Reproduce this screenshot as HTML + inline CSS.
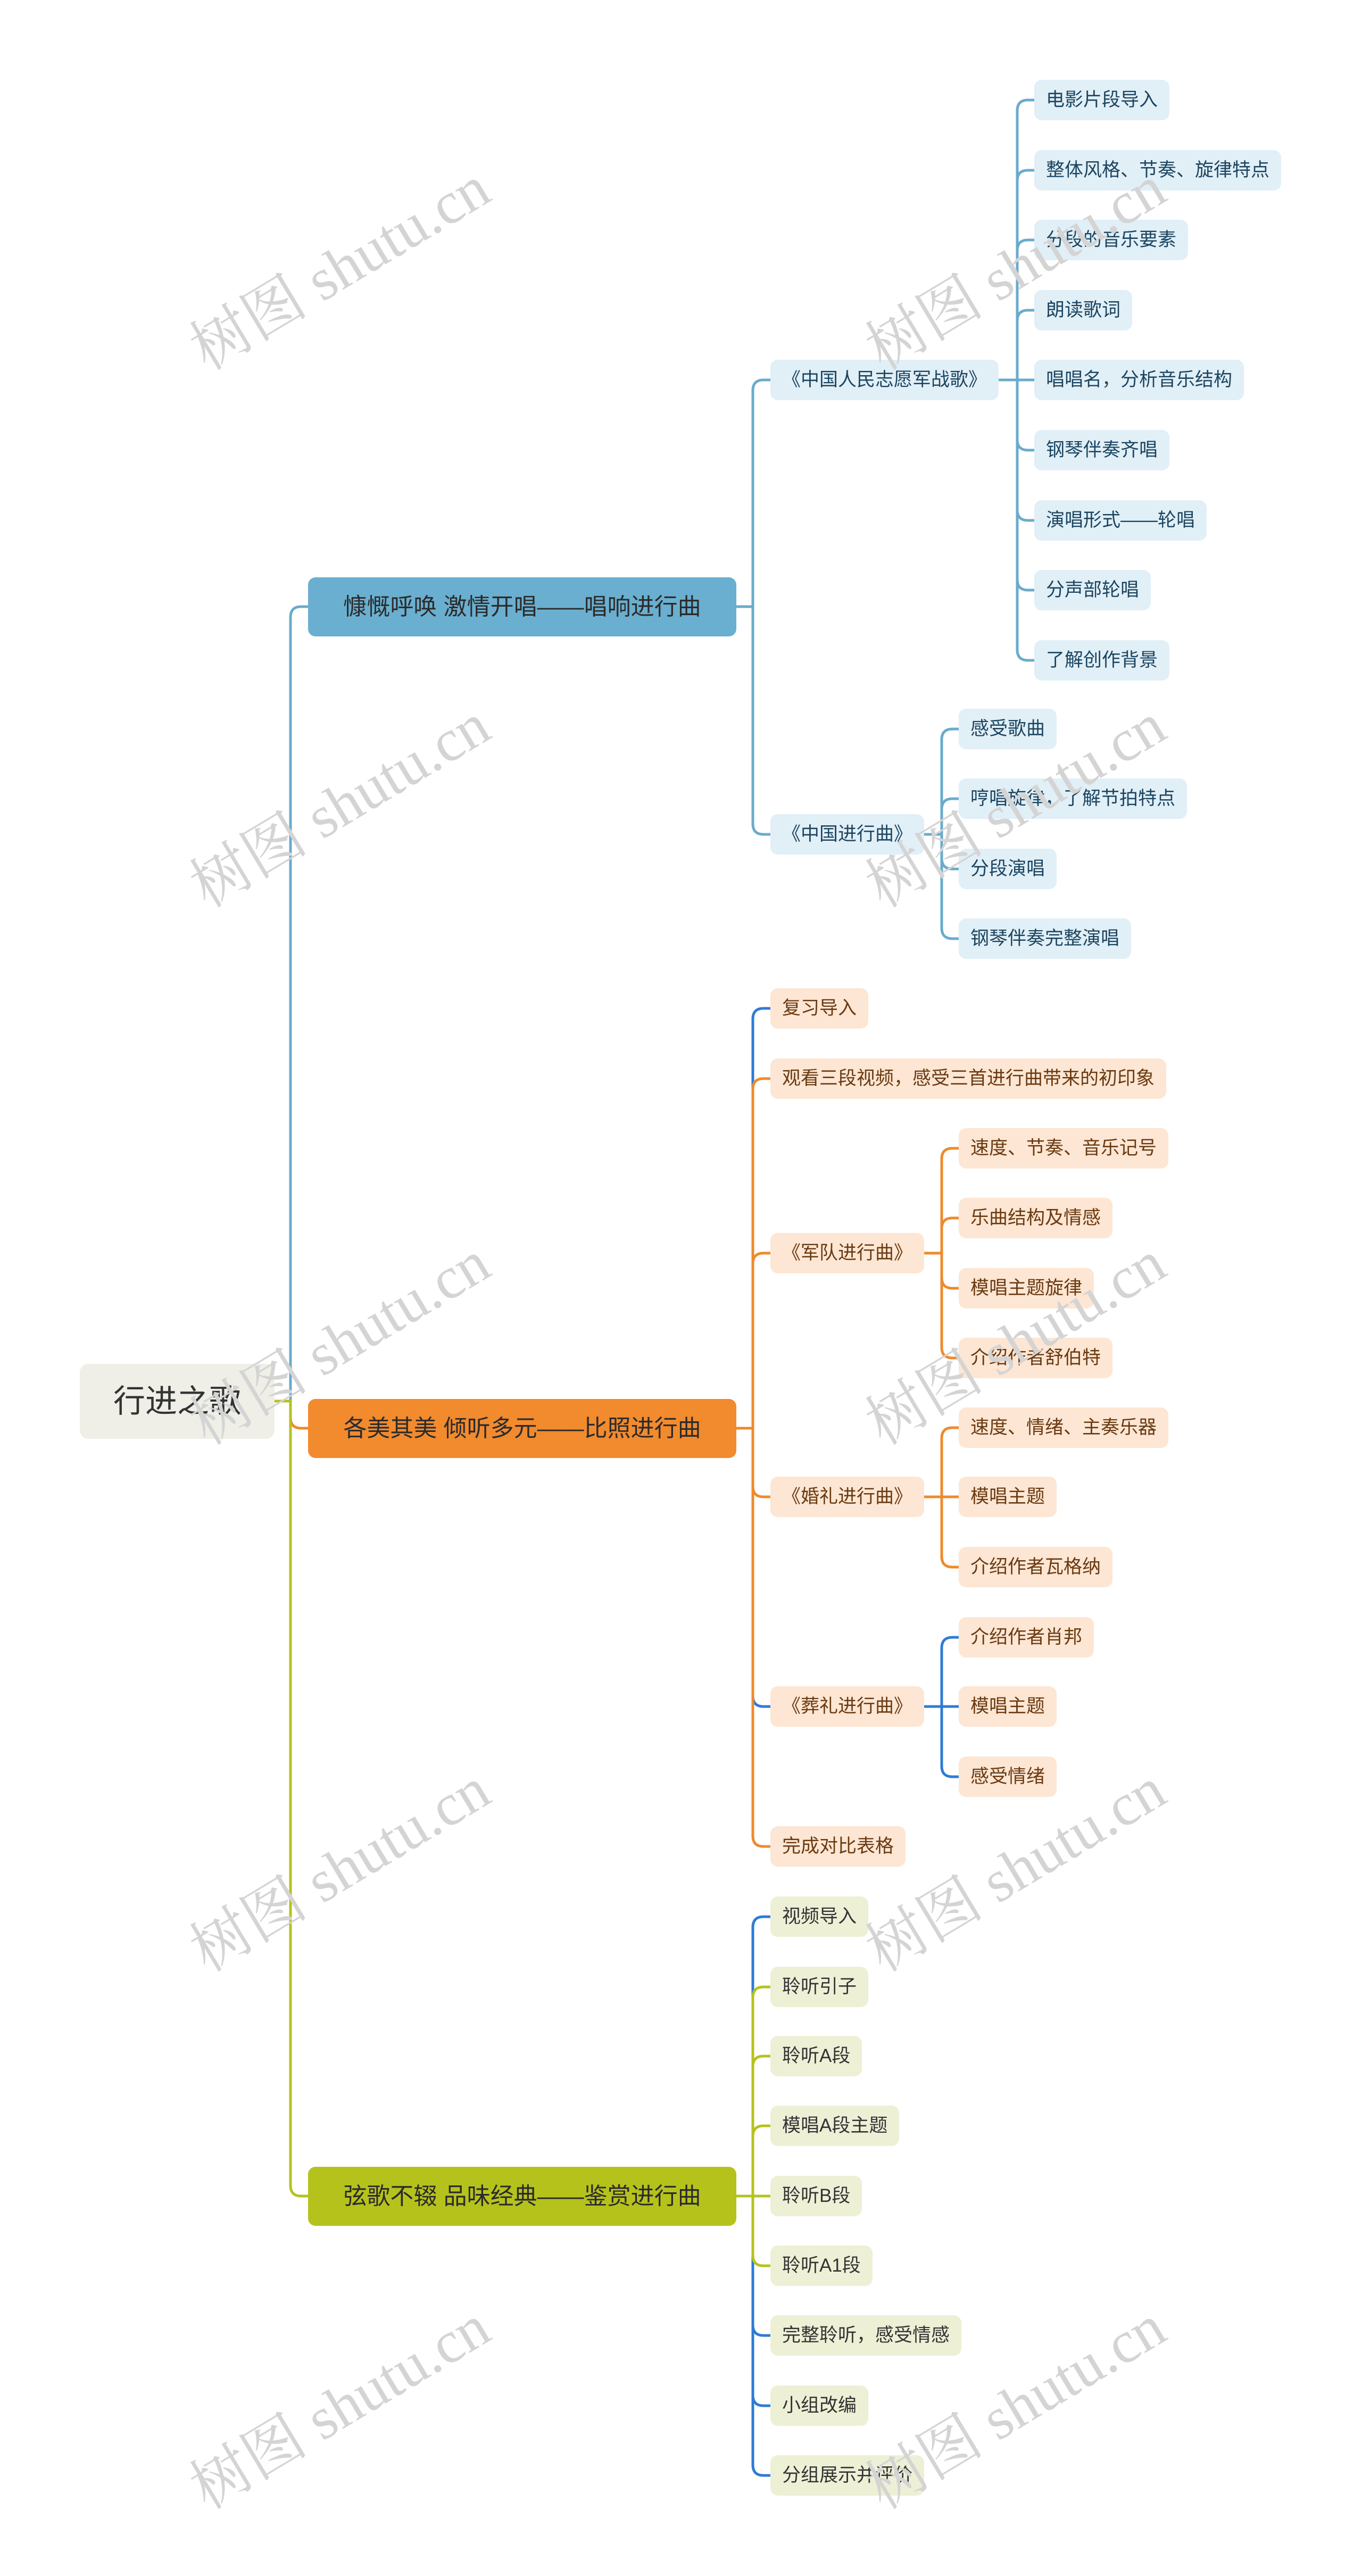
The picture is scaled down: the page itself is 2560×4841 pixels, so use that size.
<!DOCTYPE html>
<html><head><meta charset="utf-8">
<style>
html,body{margin:0;padding:0;background:#fff;}
body{width:2560px;height:4841px;position:relative;overflow:hidden;font-family:"Liberation Sans","Noto Sans CJK SC",sans-serif;}
.n{position:absolute;height:76px;line-height:76px;font-size:35px;padding:0 22px;border-radius:14px;white-space:nowrap;box-sizing:border-box;}
.b{background:#e1eff7;color:#1c4560;}
.o{background:#fde6d3;color:#6a3a12;}
.g{background:#eef0d6;color:#333;}
.br{position:absolute;left:579px;width:805px;height:111px;line-height:111px;font-size:44px;text-align:center;border-radius:14px;color:#2b2b2b;white-space:nowrap;}
.wm{position:absolute;font-family:"Liberation Serif","Noto Serif CJK SC",serif;font-size:112px;color:#d4d4d4;transform:rotate(-31deg);white-space:nowrap;transform-origin:center;}
svg{position:absolute;left:0;top:0;}
</style></head><body>
<svg width="2560" height="4841" fill="none" stroke-width="5" stroke-linecap="round">
<g stroke="#6aabcc">
<path d="M516 2633 H546 V1160 Q546 1140 566 1140 H579"/>
<path d="M1384 1140 H1415 V734 Q1415 714 1435 714 H1448"/>
<path d="M1384 1140 H1415 V1548 Q1415 1568 1435 1568 H1448"/>
<path d="M1879 714 H1912 V208 Q1912 188 1932 188 H1944"/>
<path d="M1879 714 H1912 V340 Q1912 320 1932 320 H1944"/>
<path d="M1879 714 H1912 V471 Q1912 451 1932 451 H1944"/>
<path d="M1879 714 H1912 V603 Q1912 583 1932 583 H1944"/>
<path d="M1879 714 H1944"/>
<path d="M1879 714 H1912 V826 Q1912 846 1932 846 H1944"/>
<path d="M1879 714 H1912 V958 Q1912 978 1932 978 H1944"/>
<path d="M1879 714 H1912 V1089 Q1912 1109 1932 1109 H1944"/>
<path d="M1879 714 H1912 V1221 Q1912 1241 1932 1241 H1944"/>
<path d="M1738 1568 H1770 V1390 Q1770 1370 1790 1370 H1802"/>
<path d="M1738 1568 H1770 V1521 Q1770 1501 1790 1501 H1802"/>
<path d="M1738 1568 H1770 V1613 Q1770 1633 1790 1633 H1802"/>
<path d="M1738 1568 H1770 V1744 Q1770 1764 1790 1764 H1802"/>
</g>
<g stroke="#2e7bd6">
<path d="M1384 2684 H1415 V1915 Q1415 1895 1435 1895 H1448"/>
<path d="M1384 2684 H1415 V3187 Q1415 3207 1435 3207 H1448"/>
<path d="M1738 3207 H1770 V3097 Q1770 3077 1790 3077 H1802"/>
<path d="M1738 3207 H1802"/>
<path d="M1738 3207 H1770 V3319 Q1770 3339 1790 3339 H1802"/>
</g>
<g stroke="#ef8a2c">
<path d="M516 2633 H546 V2664 Q546 2684 566 2684 H579"/>
<path d="M1384 2684 H1415 V2047 Q1415 2027 1435 2027 H1448"/>
<path d="M1384 2684 H1415 V2375 Q1415 2355 1435 2355 H1448"/>
<path d="M1384 2684 H1415 V2793 Q1415 2813 1435 2813 H1448"/>
<path d="M1384 2684 H1415 V3450 Q1415 3470 1435 3470 H1448"/>
<path d="M1738 2355 H1770 V2178 Q1770 2158 1790 2158 H1802"/>
<path d="M1738 2355 H1770 V2309 Q1770 2289 1790 2289 H1802"/>
<path d="M1738 2355 H1770 V2401 Q1770 2421 1790 2421 H1802"/>
<path d="M1738 2355 H1770 V2532 Q1770 2552 1790 2552 H1802"/>
<path d="M1738 2813 H1770 V2703 Q1770 2683 1790 2683 H1802"/>
<path d="M1738 2813 H1802"/>
<path d="M1738 2813 H1770 V2925 Q1770 2945 1790 2945 H1802"/>
</g>
<g stroke="#2e7bd6">
<path d="M1384 4127 H1415 V3622 Q1415 3602 1435 3602 H1448"/>
<path d="M1384 4127 H1415 V4369 Q1415 4389 1435 4389 H1448"/>
<path d="M1384 4127 H1415 V4501 Q1415 4521 1435 4521 H1448"/>
<path d="M1384 4127 H1415 V4632 Q1415 4652 1435 4652 H1448"/>
</g>
<g stroke="#b6c21c">
<path d="M516 2633 H546 V4107 Q546 4127 566 4127 H579"/>
<path d="M1384 4127 H1415 V3754 Q1415 3734 1435 3734 H1448"/>
<path d="M1384 4127 H1415 V3884 Q1415 3864 1435 3864 H1448"/>
<path d="M1384 4127 H1415 V4015 Q1415 3995 1435 3995 H1448"/>
<path d="M1384 4127 H1448"/>
<path d="M1384 4127 H1415 V4238 Q1415 4258 1435 4258 H1448"/>
</g>
</svg>

<div style="position:absolute;left:150px;top:2563px;width:366px;height:141px;line-height:141px;background:#efefe8;border-radius:16px;font-size:60px;color:#333;text-align:center;">行进之歌</div>

<div class="br" style="top:1085px;background:#6aafd0;">慷慨呼唤 激情开唱——唱响进行曲</div>
<div class="br" style="top:2629px;background:#f28a2e;">各美其美 倾听多元——比照进行曲</div>
<div class="br" style="top:4072px;background:#b6c21c;">弦歌不辍 品味经典——鉴赏进行曲</div>

<div class="n b" style="left:1448px;top:676px;">《中国人民志愿军战歌》</div>
<div class="n b" style="left:1944px;top:150px;">电影片段导入</div>
<div class="n b" style="left:1944px;top:282px;">整体风格、节奏、旋律特点</div>
<div class="n b" style="left:1944px;top:413px;">分段的音乐要素</div>
<div class="n b" style="left:1944px;top:545px;">朗读歌词</div>
<div class="n b" style="left:1944px;top:676px;">唱唱名，分析音乐结构</div>
<div class="n b" style="left:1944px;top:808px;">钢琴伴奏齐唱</div>
<div class="n b" style="left:1944px;top:940px;">演唱形式——轮唱</div>
<div class="n b" style="left:1944px;top:1071px;">分声部轮唱</div>
<div class="n b" style="left:1944px;top:1203px;">了解创作背景</div>

<div class="n b" style="left:1448px;top:1530px;">《中国进行曲》</div>
<div class="n b" style="left:1802px;top:1332px;">感受歌曲</div>
<div class="n b" style="left:1802px;top:1463px;">哼唱旋律，了解节拍特点</div>
<div class="n b" style="left:1802px;top:1595px;">分段演唱</div>
<div class="n b" style="left:1802px;top:1726px;">钢琴伴奏完整演唱</div>

<div class="n o" style="left:1448px;top:1857px;">复习导入</div>
<div class="n o" style="left:1448px;top:1989px;">观看三段视频，感受三首进行曲带来的初印象</div>
<div class="n o" style="left:1448px;top:2317px;">《军队进行曲》</div>
<div class="n o" style="left:1802px;top:2120px;">速度、节奏、音乐记号</div>
<div class="n o" style="left:1802px;top:2251px;">乐曲结构及情感</div>
<div class="n o" style="left:1802px;top:2383px;">模唱主题旋律</div>
<div class="n o" style="left:1802px;top:2514px;">介绍作者舒伯特</div>
<div class="n o" style="left:1448px;top:2775px;">《婚礼进行曲》</div>
<div class="n o" style="left:1802px;top:2645px;">速度、情绪、主奏乐器</div>
<div class="n o" style="left:1802px;top:2775px;">模唱主题</div>
<div class="n o" style="left:1802px;top:2907px;">介绍作者瓦格纳</div>
<div class="n o" style="left:1448px;top:3169px;">《葬礼进行曲》</div>
<div class="n o" style="left:1802px;top:3039px;">介绍作者肖邦</div>
<div class="n o" style="left:1802px;top:3169px;">模唱主题</div>
<div class="n o" style="left:1802px;top:3301px;">感受情绪</div>
<div class="n o" style="left:1448px;top:3432px;">完成对比表格</div>

<div class="n g" style="left:1448px;top:3564px;">视频导入</div>
<div class="n g" style="left:1448px;top:3696px;">聆听引子</div>
<div class="n g" style="left:1448px;top:3826px;">聆听A段</div>
<div class="n g" style="left:1448px;top:3957px;">模唱A段主题</div>
<div class="n g" style="left:1448px;top:4089px;">聆听B段</div>
<div class="n g" style="left:1448px;top:4220px;">聆听A1段</div>
<div class="n g" style="left:1448px;top:4351px;">完整聆听，感受情感</div>
<div class="n g" style="left:1448px;top:4483px;">小组改编</div>
<div class="n g" style="left:1448px;top:4614px;">分组展示并评价</div>

<div class="wm" style="left:320px;top:415px;">树图 shutu.cn</div>
<div class="wm" style="left:320px;top:1425px;">树图 shutu.cn</div>
<div class="wm" style="left:320px;top:2435px;">树图 shutu.cn</div>
<div class="wm" style="left:320px;top:3425px;">树图 shutu.cn</div>
<div class="wm" style="left:320px;top:4435px;">树图 shutu.cn</div>
<div class="wm" style="left:1590px;top:415px;">树图 shutu.cn</div>
<div class="wm" style="left:1590px;top:1425px;">树图 shutu.cn</div>
<div class="wm" style="left:1590px;top:2435px;">树图 shutu.cn</div>
<div class="wm" style="left:1590px;top:3425px;">树图 shutu.cn</div>
<div class="wm" style="left:1590px;top:4435px;">树图 shutu.cn</div>
</body></html>
